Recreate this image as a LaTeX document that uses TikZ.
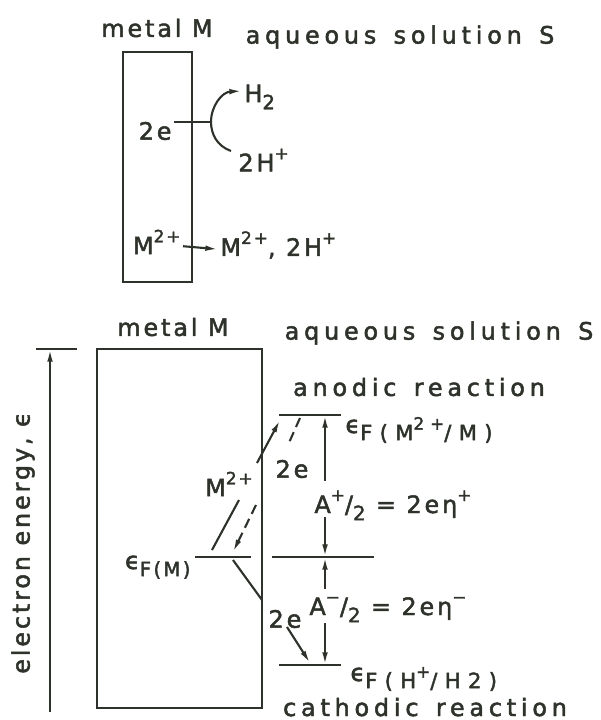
\documentclass[tikz,border=0pt]{standalone}
\usepackage{fontspec}
\setmainfont[LetterSpace=12, FakeBold=2]{DejaVu Sans}
\newfontfamily\widefont[LetterSpace=20, WordSpace=1.4, FakeBold=2]{DejaVu Sans}
\newfontfamily\subfont[LetterSpace=35, FakeBold=2]{DejaVu Sans}
\usetikzlibrary{arrows.meta}
\definecolor{ink}{RGB}{45,50,42}
\newcommand\lowtxt[1]{\raisebox{-0.3em}{\fontsize{14}{14}\selectfont #1}}
\newcommand\lowwide[1]{\raisebox{-0.3em}{\fontsize{15}{15}\subfont #1}}
\newcommand\hitxt[1]{\raisebox{0.5em}{\fontsize{12}{12}\selectfont #1}}

\begin{document}
\begin{tikzpicture}[x=0.025cm, y=-0.025cm, line width=1.5pt, color=ink,
    >={Latex[length=9pt,width=4pt]},
    lbl/.style={inner sep=1pt, font=\fontsize{17}{20}\selectfont},
    wide/.style={inner sep=1pt, font=\fontsize{17}{20}\widefont},
    dsh/.style={dash pattern=on 7pt off 4pt}]
    \useasboundingbox (0,0) rectangle (600,720);

    % upper sketch
    \draw (123,52) rectangle (192,282);
    \node[lbl] (metalA) at (157,28) {metal M};
    \node[wide] (solA) at (400,37) {aqueous solution S};

    \coordinate (TA) at (174,122);
    \coordinate (CA) at (211,122);
    \node[lbl, anchor=east] (eA) at (174,131) {2e};
    \node[lbl, anchor=west] (hA) at (242,97) {H\lowtxt{2}};
    \node[lbl, anchor=west] (hpA) at (236,160) {2H\hitxt{+}};
    \draw (TA) -- (CA);
    \draw[->] (231,151) .. controls (217,146) and (211,134) .. (CA)
        .. controls (211,106) and (222,92) .. (242,91);

    \node[lbl, anchor=east] (mA) at (183,242) {M\hitxt{2+}};
    \node[lbl, anchor=west] (ionsA) at (218,245) {M\hitxt{2+}, 2H\hitxt{+}};
    \draw[->] ([yshift=-3pt]mA.east) -- ([yshift=-3pt]ionsA.west);

    % energy diagram
    \draw (97,349) rectangle (262,708);
    \node[lbl] (metalB) at (173,327) {metal M};
    \node[wide] (solB) at (439,333) {aqueous solution S};
    \node[wide] (anodic) at (419,387) {anodic reaction};
    \node[wide, anchor=base] (cathodic) at (425,716) {cathodic reaction};

    \draw[->] (50,712) -- (50,349);
    \draw (36,349) -- (77,349);
    \node[lbl, rotate=90] (energy) at (23,543) {electron energy, ϵ};

    \coordinate (X1) at (279,415);
    \coordinate (X2) at (195,557);
    \coordinate (X3) at (279,665);
    \draw (X1) -- +(62,0);
    \draw (X2) -- +(56,0);
    \draw (272,557) -- (374,557);
    \draw (X3) -- +(62,0);
    \node[lbl, anchor=base west] (epsMS) at (343,433) {ϵ\lowwide{F(M\hitxt{2+}/M)}};
    \node[lbl, anchor=base east] (epsM) at (193,569) {ϵ\lowtxt{F(M)}};
    \node[lbl, anchor=base west] (epsH) at (348,681) {ϵ\lowwide{F(H\hitxt{+}/H2)}};

    \node[lbl, anchor=base west] (ap) at (312,513) {A\hitxt{+}/\lowtxt{2} = 2eη\hitxt{+}};
    \node[lbl, anchor=base west] (am) at (307,615) {A\hitxt{−}/\lowtxt{2} = 2eη\hitxt{−}};
    \draw[<-] (325,415) -- (325,481);
    \draw[->] (325,517) -- (325,557);
    \draw[->] (325,589) -- (325,557);
    \draw[->] (325,623) -- (325,665);

    \node[lbl] (mB) at (229,484) {M\hitxt{2+}};
    \node[lbl] (eB) at (292,469) {2e};
    \node[lbl] (eC) at (285,619) {2e};
    \draw (212,550) -- (239,500);
    \draw[->] (257,463) -- (280,420);
    \draw[dsh] (300,418) -- (288,445);
    \draw[dsh, ->] (256,505) -- (233,552);
    \draw (233,560) -- (262,600);
    \draw[->] (287,627) -- (310,663);
\end{tikzpicture}
\end{document}
